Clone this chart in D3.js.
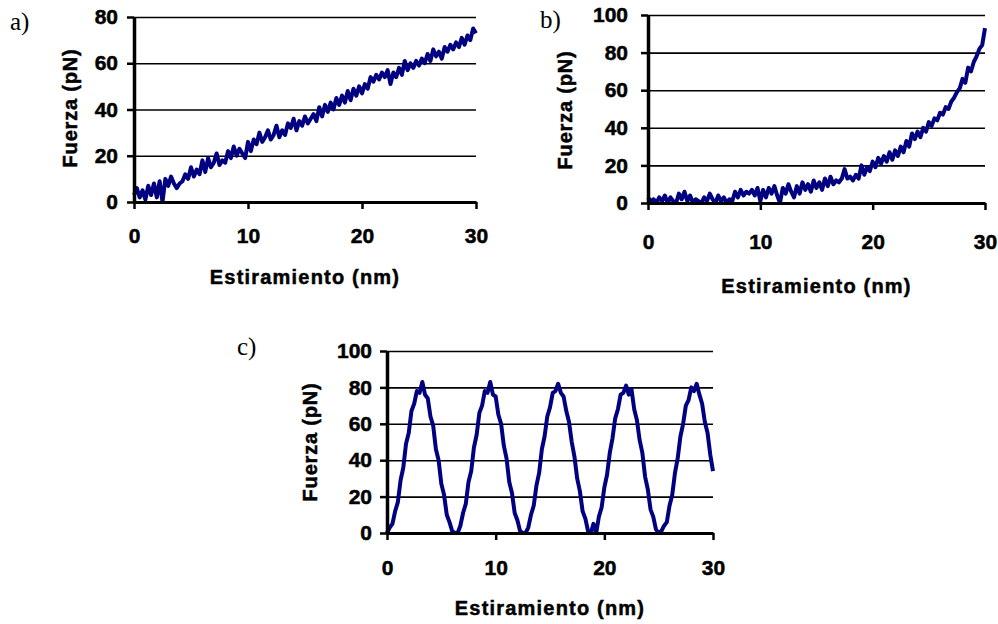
<!DOCTYPE html>
<html>
<head>
<meta charset="utf-8">
<script src="https://cdn.jsdelivr.net/npm/d3@7"></script>
<style>
    body { margin: 0; background: #fff; }
    svg { display: block; }
</style>
</head>
<body>
<div id="chart"></div>
<script>
// estiramiento (nm), shared by the three panels
var estiramiento = [
    0, 0.25, 0.5, 0.75, 1, 1.25, 1.5, 1.75, 2, 2.25, 2.5, 2.75,
    3, 3.25, 3.5, 3.75, 4, 4.25, 4.5, 4.75, 5, 5.25, 5.5, 5.75,
    6, 6.25, 6.5, 6.75, 7, 7.25, 7.5, 7.75, 8, 8.25, 8.5, 8.75,
    9, 9.25, 9.5, 9.75, 10, 10.25, 10.5, 10.75, 11, 11.25, 11.5, 11.75,
    12, 12.25, 12.5, 12.75, 13, 13.25, 13.5, 13.75, 14, 14.25, 14.5, 14.75,
    15, 15.25, 15.5, 15.75, 16, 16.25, 16.5, 16.75, 17, 17.25, 17.5, 17.75,
    18, 18.25, 18.5, 18.75, 19, 19.25, 19.5, 19.75, 20, 20.25, 20.5, 20.75,
    21, 21.25, 21.5, 21.75, 22, 22.25, 22.5, 22.75, 23, 23.25, 23.5, 23.75,
    24, 24.25, 24.5, 24.75, 25, 25.25, 25.5, 25.75, 26, 26.25, 26.5, 26.75,
    27, 27.25, 27.5, 27.75, 28, 28.25, 28.5, 28.75, 29, 29.25, 29.5, 29.75,
    30
];

// fuerza (pN)
var fuerzaA = [
    3, 6, 2, 5, 1, 7, 3, 8, 2, 9, 0, 10,
    7, 11, 8, 6, 8, 9, 12, 10, 15, 11, 14, 12,
    18, 13, 19, 15, 17, 21, 16, 18, 17, 22, 19, 24,
    20, 23, 21, 19, 26, 22, 27, 25, 30, 26, 28, 31,
    27, 29, 33, 28, 31, 29, 34, 32, 36, 31, 35, 33,
    37, 34, 36, 38, 35, 41, 37, 42, 39, 43, 40, 45,
    42, 46, 43, 48, 44, 49, 46, 50, 47, 51, 49, 54,
    52, 55, 53, 56, 54, 57, 51, 56, 54, 58, 55, 61,
    57, 60, 58, 61, 59, 62, 60, 64, 61, 66, 63, 65,
    62, 67, 65, 68, 66, 69, 67, 71, 68, 72, 70, 75,
    73
];
var fuerzaB = [
    3, 1, 2, 0, 3, 1, 4, 0, 3, 1, 0, 5,
    2, 6, 1, 4, 0, 2, 1, 0, 3, 1, 5, 2,
    0, 4, 1, 3, 0, 2, 1, 6, 3, 7, 4, 6,
    5, 7, 4, 8, 1, 7, 3, 8, 5, 9, 4, 0,
    8, 5, 10, 6, 3, 9, 5, 11, 7, 10, 6, 12,
    8, 11, 7, 13, 9, 14, 10, 12, 11, 13, 18, 13,
    14, 12, 15, 13, 20, 15, 19, 17, 22, 19, 24, 21,
    25, 22, 27, 23, 28, 25, 30, 27, 33, 30, 37, 34,
    38, 35, 40, 38, 43, 41, 45, 44, 48, 47, 51, 50,
    54, 56, 59, 61, 66, 64, 72, 70, 75, 78, 82, 84,
    93
];
var fuerzaC = [
    0, 3, 5, 12, 17, 29, 36, 49, 55, 67, 71, 78,
    77, 83, 76, 74, 64, 59, 46, 40, 27, 21, 10, 6,
    1, 0, 0, 4, 11, 16, 28, 34, 47, 54, 66, 70,
    78, 77, 83, 76, 75, 65, 60, 48, 41, 28, 22, 11,
    7, 1, 0, 0, 3, 10, 15, 26, 33, 46, 53, 64,
    69, 77, 78, 82, 77, 75, 67, 61, 50, 42, 30, 23,
    12, 8, 1, 0, 5, 0, 9, 14, 25, 32, 44, 52,
    63, 68, 76, 77, 81, 76, 79, 68, 62, 51, 44, 31,
    24, 13, 9, 2, 0, 1, 4, 6, 15, 21, 33, 41,
    53, 60, 70, 73, 80, 78, 82, 76, 71, 61, 55, 43,
    34
];

var xTicks = [0, 10, 20, 30];
var yTicksA = [0, 20, 40, 60, 80];
var yTicksBC = [0, 20, 40, 60, 80, 100];
var xTitle = 'Estiramiento (nm)';
var yTitle = 'Fuerza (pN)';

var svg = d3.select('#chart').append('svg').attr('width', 998).attr('height', 624);
var font = '"Liberation Sans", Arial, sans-serif';

function boldText(sel, size) {
    sel.attr('fill', '#000').attr('stroke', '#000').attr('stroke-width', 0.5)
        .style('font', 'bold ' + size + 'px ' + font);
}

function drawPanel(p) {
    var x = d3.scaleLinear().domain([0, 30]).range([p.left, p.right]);
    var y = d3.scaleLinear().domain([0, p.yTicks[p.yTicks.length - 1]]).range([p.bottom, p.top]);
    var g = svg.append('g');

    // grid lines
    var grid = g.append('g').attr('transform', 'translate(' + p.left + ',0)')
        .call(d3.axisLeft(y).tickValues(p.yTicks).tickSize(-(p.right - p.left)).tickFormat(''));
    grid.select('.domain').remove();
    grid.selectAll('line').attr('stroke', '#000').attr('stroke-width', 1.6);

    // the curve
    var pts = estiramiento.map(function(d, i) { return [d, p.values[i]]; });
    g.append('path').datum(pts)
        .attr('fill', 'none').attr('stroke', '#000080').attr('stroke-width', 4)
        .attr('stroke-linejoin', 'round')
        .attr('d', d3.line().x(function(d) { return x(d[0]); }).y(function(d) { return y(d[1]); }));

    // x axis
    var xa = g.append('g').attr('transform', 'translate(0,' + p.bottom + ')')
        .call(d3.axisBottom(x).tickValues(xTicks).tickSize(7).tickSizeOuter(0).tickPadding(p.xPad));
    xa.select('.domain').attr('stroke', '#000').attr('stroke-width', 3);
    xa.selectAll('line').attr('stroke', '#000').attr('stroke-width', 2.5);
    boldText(xa.selectAll('text'), 21);

    // y axis
    var ya = g.append('g').attr('transform', 'translate(' + p.left + ',0)')
        .call(d3.axisLeft(y).tickValues(p.yTicks).tickSize(7).tickSizeOuter(0).tickPadding(p.yPad));
    ya.select('.domain').attr('stroke', '#000').attr('stroke-width', 3.5);
    ya.selectAll('line').attr('stroke', '#000').attr('stroke-width', 2.5);
    boldText(ya.selectAll('text'), 21);

    // titles
    boldText(g.append('text').attr('x', (p.left + p.right) / 2).attr('y', p.xTitleY)
        .attr('text-anchor', 'middle').style('letter-spacing', '1.2px').text(xTitle), 20);
    boldText(g.append('text').attr('transform', 'translate(' + p.yTitleX + ',' + p.yTitleMid + ') rotate(-90)')
        .attr('text-anchor', 'middle').style('letter-spacing', '0.8px').text(yTitle), 20);
    g.selectAll('text').style('letter-spacing', function() { return this.style.letterSpacing; });

    // panel letter
    g.append('text').attr('x', p.labelX).attr('y', p.labelY)
        .style('font', '25px "Liberation Serif", "Times New Roman", serif').text(p.label);
}

drawPanel({ values: fuerzaA, yTicks: yTicksA, left: 134, right: 476, top: 17, bottom: 202,
    xPad: 19, yPad: 9, xTitleY: 284, yTitleX: 77, yTitleMid: 108, label: 'a)', labelX: 10, labelY: 30 });
drawPanel({ values: fuerzaB, yTicks: yTicksBC, left: 648, right: 985, top: 15, bottom: 203,
    xPad: 24, yPad: 13, xTitleY: 293, yTitleX: 572, yTitleMid: 110, label: 'b)', labelX: 540, labelY: 28 });
drawPanel({ values: fuerzaC, yTicks: yTicksBC, left: 387, right: 713, top: 351, bottom: 533,
    xPad: 20, yPad: 8, xTitleY: 615, yTitleX: 317, yTitleMid: 442, label: 'c)', labelX: 237, labelY: 355 });
</script>
</body>
</html>
